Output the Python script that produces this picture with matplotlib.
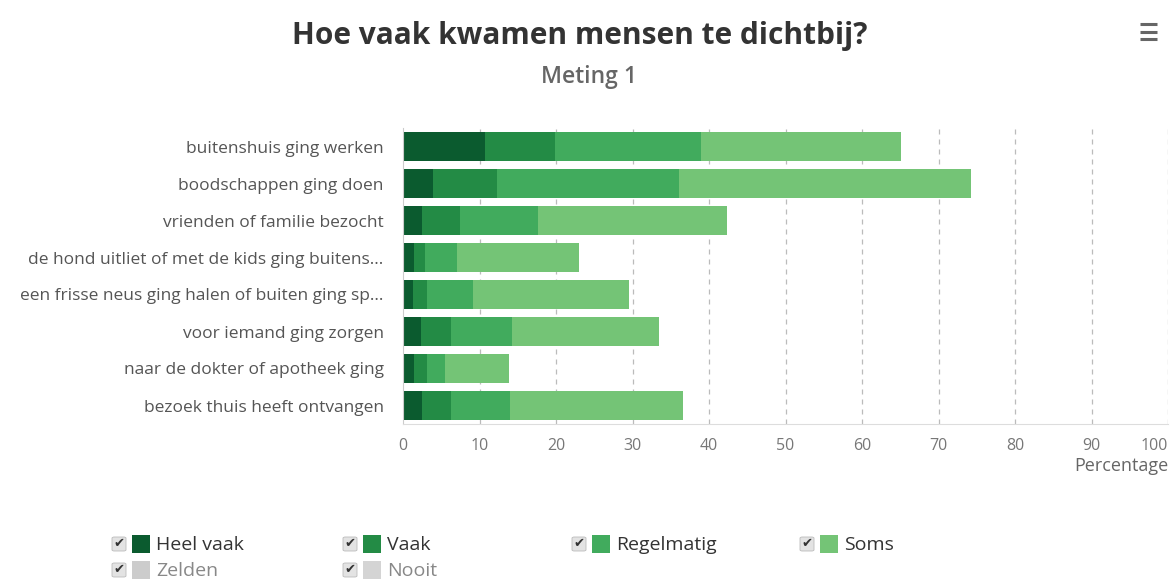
import matplotlib
matplotlib.use("Agg")
import matplotlib.pyplot as plt
import numpy as np
from matplotlib.patches import Rectangle, FancyBboxPatch
from matplotlib.lines import Line2D

plt.rcParams["font.family"] = ["Open Sans", "DejaVu Sans"]

categories = [
    "buitenshuis ging werken",
    "boodschappen ging doen",
    "vrienden of familie bezocht",
    "de hond uitliet of met de kids ging buitens...",
    "een frisse neus ging halen of buiten ging sp...",
    "voor iemand ging zorgen",
    "naar de dokter of apotheek ging",
    "bezoek thuis heeft ontvangen",
]
heel_vaak = [10.7, 3.9, 2.5, 1.4, 1.3, 2.3, 1.4, 2.5]
vaak = [9.2, 8.4, 5.0, 1.5, 1.9, 4.0, 1.7, 3.8]
regelmatig = [19.0, 23.8, 10.2, 4.2, 5.9, 7.9, 2.4, 7.7]
soms = [26.2, 38.2, 24.7, 15.9, 20.5, 19.2, 8.3, 22.6]
zelden = [0, 0, 0, 0, 0, 0, 0, 0]
nooit = [0, 0, 0, 0, 0, 0, 0, 0]

series = [
    ("Heel vaak", heel_vaak, "#0b5b2f"),
    ("Vaak", vaak, "#238b45"),
    ("Regelmatig", regelmatig, "#41ab5d"),
    ("Soms", soms, "#74c476"),
    ("Zelden", zelden, "#cccccc"),
    ("Nooit", nooit, "#d4d4d4"),
]

W, H = 1172, 583
fig = plt.figure(figsize=(W / 100, H / 100), dpi=100)
ax = fig.add_axes([403 / W, 1 - 424 / H, 765 / W, 296 / H])

y = np.arange(len(categories))
left = np.zeros(len(categories))
for name, vals, col in series:
    vals = np.array(vals, dtype=float)
    ax.barh(y, vals, left=left, height=0.81, color=col, edgecolor="none", zorder=2)
    left += vals

ax.set_xlim(0, 100)
ax.set_ylim(len(categories) - 0.5, -0.5)
ax.set_xticks(np.arange(0, 101, 10))
ax.set_yticks(y)
ax.set_yticklabels(categories, fontsize=12.5, color="#555555")
ax.tick_params(axis="y", length=0, pad=14)
ax.tick_params(axis="x", length=0, pad=10, labelsize=11.5, labelcolor="#777777")
ax.get_xticklabels()[-1].set_horizontalalignment("right")

for xv in range(10, 101, 10):
    ax.axvline(xv, color="#bbbbbb", lw=0.9, ls=(0, (4, 4)), zorder=1)

for s in ["top", "right"]:
    ax.spines[s].set_visible(False)
ax.spines["left"].set_color("#cccccc")
ax.spines["bottom"].set_color("#dddddd")

fig.text(1168 / W, 1 - 466 / H, "Percentage", ha="right", va="center",
         fontsize=13, color="#666666")

# title / subtitle
fig.text(580 / W, 1 - 36 / H, "Hoe vaak kwamen mensen te dichtbij?", ha="center",
         va="center", fontsize=21.5, fontweight="bold", color="#333333")
fig.text(589 / W, 1 - 77 / H, "Meting 1", ha="center", va="center",
         fontsize=16.5, fontweight="semibold", color="#666666")

# hamburger menu icon
for yy in (24, 31.5, 39):
    fig.add_artist(Line2D([1140 / W, 1157 / W], [1 - yy / H, 1 - yy / H],
                          color="#666666", lw=2.2, solid_capstyle="butt"))

# legend with checkboxes (checkbox centres)
leg_pos = [(119, 544), (350, 544), (579, 544), (807, 544), (119, 570), (350, 570)]
for (name, vals, col), (px, py) in zip(series, leg_pos):
    dim = name in ("Zelden", "Nooit")
    fig.add_artist(FancyBboxPatch(((px - 7) / W, 1 - (py + 7) / H), 14 / W, 14 / H,
                                  boxstyle="round,pad=0,rounding_size=0.002",
                                  transform=fig.transFigure, facecolor="#e3e3e3",
                                  edgecolor="#bbbbbb", lw=0.6))
    fig.text(px / W, 1 - py / H, "\u2714", ha="center", va="center",
             fontsize=9.5, color="#333333", family="DejaVu Sans")
    fig.add_artist(Rectangle(((px + 13) / W, 1 - (py + 9) / H), 18 / W, 18 / H,
                             transform=fig.transFigure, facecolor=col, edgecolor="none"))
    fig.text((px + 37) / W, 1 - (py + 1) / H, name, ha="left", va="center", fontsize=14,
             color="#888888" if dim else "#333333")

fig.savefig("out.png", dpi=100, facecolor="white")
